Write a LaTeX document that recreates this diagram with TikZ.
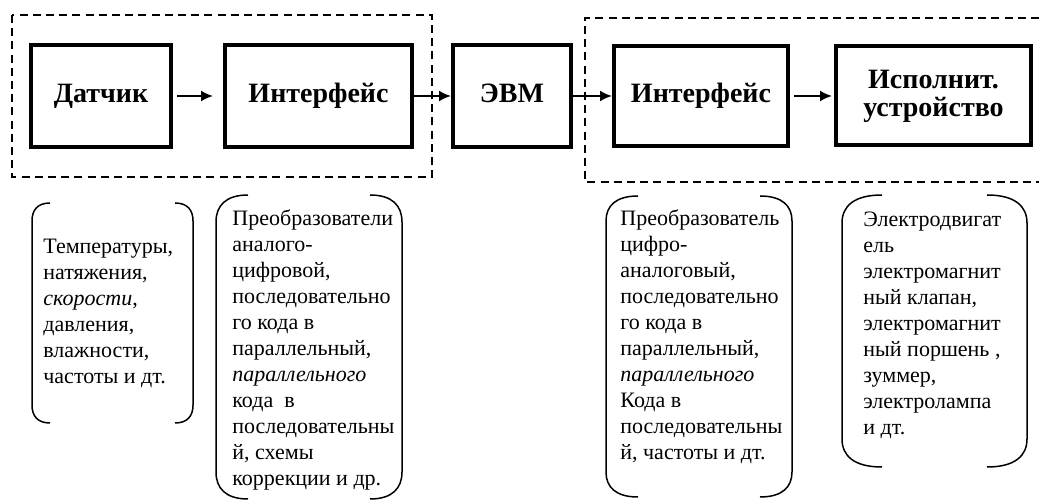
\documentclass[tikz,border=0pt]{standalone}
\usepackage{fontspec}
\setmainfont{Liberation Serif}[BoldFont={Liberation Serif Bold}, ItalicFont={Liberation Serif Italic}]
\usetikzlibrary{arrows.meta}

\tikzset{
  block/.style={draw, line width=2pt, align=center, inner sep=0pt,
    font=\fontsize{14pt}{14pt}\selectfont\bfseries},
  oneline/.style={text height=9.6pt, text depth=3pt},
  unitframe/.style={line width=0.8pt, dash pattern=on 4pt off 2.6pt},
  link/.style={line width=0.9pt, -{Latex[length=6pt,width=5.5pt]}},
  listtext/.style={anchor=north west, inner sep=0pt, align=left,
    font=\fontsize{11pt}{13pt}\selectfont},
  paren/.style={line width=0.75pt}
}

% #1 left x, #2 right x, #3 top, #4 bottom, #5 hook width, #6 hook depth
\newcommand{\parenpair}[6]{%
  \draw[paren] (#1+#5, #3) .. controls (#1+0.3*#5, #3) and (#1, #3+0.4*#6) .. (#1, #3+#6)
    -- (#1, #4-#6) .. controls (#1, #4-0.4*#6) and (#1+0.3*#5, #4) .. (#1+#5, #4);
  \draw[paren] (#2-#5, #3) .. controls (#2-0.3*#5, #3) and (#2, #3+0.4*#6) .. (#2, #3+#6)
    -- (#2, #4-#6) .. controls (#2, #4-0.4*#6) and (#2-0.3*#5, #4) .. (#2-#5, #4);
}

\begin{document}
\begin{tikzpicture}[x=0.5pt, y=-0.5pt]
  \useasboundingbox (0, 0) rectangle (1039, 501);

  % dashed groups
  \draw[unitframe] (12, 15) rectangle (432, 177);
  \draw[unitframe] (1039, 18) -- (585, 18) -- (585, 182) -- (1039, 182);

  % blocks
  \node[block, oneline, minimum width=70pt, minimum height=51pt] (sensor) at (101, 96) {Датчик};
  \node[block, oneline, minimum width=93.5pt, minimum height=51pt] (ifin) at (318.5, 96) {Интерфейс};
  \node[block, oneline, minimum width=59pt, minimum height=51pt] (evm) at (512, 96) {ЭВМ};
  \node[block, oneline, minimum width=87pt, minimum height=50pt] (ifout) at (701, 96) {Интерфейс};
  \node[block, minimum width=97.5pt, minimum height=49.5pt] (actuator) at (933.5, 96) {Исполнит.\\устройство};

  \draw[link, shorten <=2pt, shorten >=5pt] (sensor) -- (ifin);
  \draw[link] (ifin) -- (evm);
  \draw[link] (evm) -- (ifout);
  \draw[link, shorten <=2pt, shorten >=1pt] (ifout) -- (actuator);

  % descriptions
  \parenpair{32}{193}{203}{423}{18}{18}
  \node[listtext] (sensortxt) at (43, 239) {Температуры,\\натяжения,\\\textit{скорости},\\давления,\\влажности,\\частоты и дт.};

  \parenpair{216}{402}{195}{499}{32}{27}
  \node[listtext] (ifintxt) at (232, 209) {Преобразователи\\аналого-\\цифровой,\\последовательно\\го кода в\\параллельный,\\\textit{параллельного}\\кода\ \ в\\последовательны\\й, схемы\\коррекции и др.};

  \parenpair{606}{792}{196}{497}{32}{25}
  \node[listtext] (ifouttxt) at (620, 209) {Преобразователь\\цифро-\\аналоговый,\\последовательно\\го кода в\\параллельный,\\\textit{параллельного}\\Кода в\\последовательны\\й, частоты и дт.};

  \parenpair{842}{1027}{195}{467}{40}{28}
  \node[listtext] (actuatortxt) at (863, 212) {Электродвигат\\ель\\электромагнит\\ный клапан,\\электромагнит\\ный поршень ,\\зуммер,\\электролампа\\и дт.};
\end{tikzpicture}
\end{document}
